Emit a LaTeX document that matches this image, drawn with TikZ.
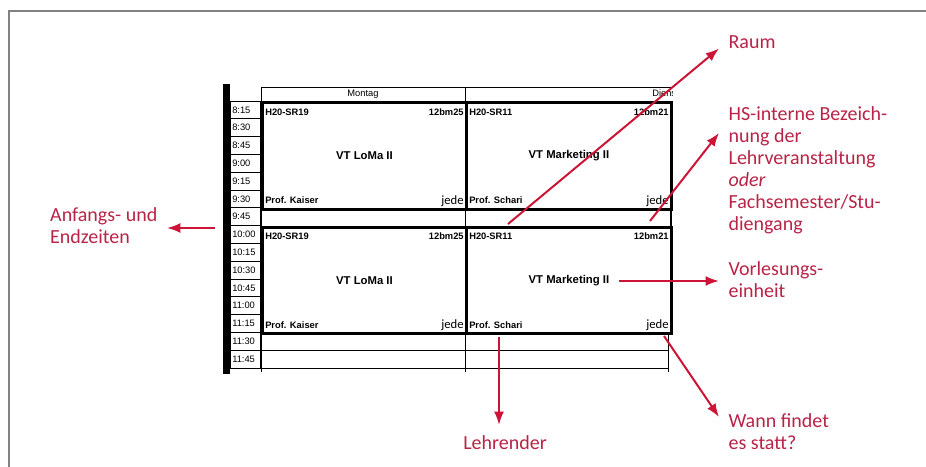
\documentclass[tikz,border=0pt]{standalone}
\usepackage{fontspec}
\setmainfont{Liberation Sans}
\newfontfamily\notefont{Carlito}
\usetikzlibrary{arrows.meta, positioning, calc}
\definecolor{notered}{RGB}{185,35,70}
\definecolor{arrowred}{RGB}{205,20,55}
\definecolor{framegray}{RGB}{130,130,130}

\begin{document}
\begin{tikzpicture}[x=0.75pt,y=-0.75pt,
  note/.style={text=notered,font=\notefont\fontsize{15}{16.5}\selectfont,align=left,inner ysep=0pt,inner xsep=7pt},
  hinweis/.style={draw=arrowred,line width=1.5pt,-{Latex[length=10pt,width=7.5pt]}},
  kurs/.style={draw,line width=2.2pt,inner sep=0pt},
  gitter/.style={draw,line width=0.5pt},
  zeit/.style={font=\fontsize{7}{8}\selectfont,inner sep=0pt,anchor=west},
  klein/.style={font=\bfseries\fontsize{7}{8}\selectfont,inner sep=0pt},
  titel/.style={font=\bfseries\fontsize{8.5}{10}\selectfont},
  jede/.style={font=\notefont\fontsize{9.5}{10}\selectfont,inner sep=0pt}]
\useasboundingbox (0,0) rectangle (926,467);
% Rahmen
\draw[framegray,line width=1.5pt] (9,467) -- (9,11) -- (926,11);
% Zeitleiste
\fill (223,84) rectangle (230,374);
\foreach \t [count=\i] in {8:15,8:30,8:45,9:00,9:15,9:30,9:45,10:00,10:15,10:30,10:45,11:00,11:15,11:30,11:45} {
  \draw[gitter] (230,{101+(\i-1)*17.8}) rectangle (260,{101+\i*17.8});
  \node[zeit] (t\i) at (232,{101+(\i-0.5)*17.8}) {\t};
}
% Kopfzeile
\draw[gitter] (261,87) rectangle (465,101);
\node[font=\fontsize{7}{8}\selectfont,inner sep=0pt] (montag) at (363,94.5) {Montag};
\draw[gitter] (465,87) -- (672,87) (465,101) -- (672,101);
\begin{scope}
  \clip (465,86) rectangle (672,102);
  \node[font=\fontsize{7}{8}\selectfont,inner sep=0pt,anchor=west] (dienstag) at (652,94.5) {Dienstag};
\end{scope}
% Veranstaltungen
\foreach \y [count=\r] in {101,225.6} {
  \foreach \xa/\xb/\raum/\kz/\lv/\prof [count=\c] in {261/465/H20-SR19/12bm25/VT LoMa II/Prof. Kaiser,465/670/H20-SR11/12bm21/VT Marketing II/Prof. Schari} {
    \node[kurs,anchor=north west,minimum width={(\xb-\xa)*0.75pt},minimum height=80.1pt] (k\r\c) at (\xa,\y) {};
    \node[klein,below right=5.5pt and 3pt of k\r\c.north west] (raum\r\c) {\raum};
    \node[klein,below left=5.5pt and 3pt of k\r\c.north east] (kz\r\c) {\kz};
    \node[titel] (lv\r\c) at (k\r\c) {\lv};
    \node[klein,above right=5pt and 3pt of k\r\c.south west] (prof\r\c) {\prof};
    \node[jede,above left=3pt and 3pt of k\r\c.south east] (jede\r\c) {jede};
  }
}
\draw[line width=2.2pt] (671,101) -- (671,333.5);
\draw[gitter] (261,207.8) -- (261,225.6) (465,207.8) -- (465,225.6) (670,207.8) -- (670,225.6);
\draw[gitter] (261,332.4) -- (261,372) (465,332.4) -- (465,372) (668,332.4) -- (668,372)
  (261,350.2) -- (668,350.2) (261,368) -- (668,368);
% Erklaerungen
\node[note,anchor=south west] (raum) at (719,48.5) {Raum};
\node[note,anchor=north west] (bez) at (719,106) {HS-interne Bezeich-\\nung der\\Lehrveranstaltung\\\textit{oder}\\Fachsemester/Stu-\\diengang};
\node[note,anchor=west] (einheit) at (719,280) {Vorlesungs-\\einheit};
\node[note,anchor=north west] (wann) at (719,413) {Wann findet\\es statt?};
\node[note,anchor=north,inner ysep=8pt] (lehrender) at (505,425) {Lehrender};
\node[note,anchor=east] (zeiten) at (167,226) {Anfangs- und\\Endzeiten};
\coordinate (raumstart) at (508,224);
\coordinate (bezstart) at (650,221);
\coordinate (einheitstart) at (619,281);
\coordinate (wannstart) at (664,336);
\coordinate (lehrstart) at (499,337);
\coordinate (zeitenstart) at (215,228);
\draw[hinweis] (raumstart) -- (raum.south west);
\draw[hinweis] (bezstart) -- ($(bez.north west)+(0,27)$);
\draw[hinweis] (einheitstart) -- (einheitstart -| einheit.west);
\draw[hinweis] (wannstart) -- ($(wann.north west)+(0,4)$);
\draw[hinweis] (lehrstart) -- (lehrstart |- lehrender.north);
\draw[hinweis] (zeitenstart) -- (zeitenstart -| zeiten.east);
\end{tikzpicture}
\end{document}
